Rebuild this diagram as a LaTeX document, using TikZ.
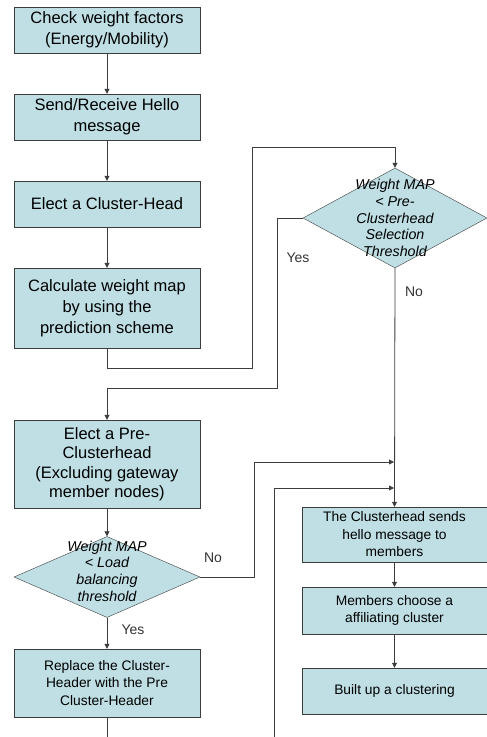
\documentclass[tikz,border=0pt]{standalone}
\usepackage{fontspec}
\setmainfont{Liberation Sans}
\usetikzlibrary{shapes.geometric,arrows.meta}
\definecolor{boxfill}{RGB}{191,223,228}
\definecolor{linegray}{RGB}{60,60,60}
\tikzset{
  box/.style={draw=linegray, fill=boxfill, align=center, inner sep=1pt},
  bigbox/.style={box, minimum width=186pt, font=\fontsize{16.5}{21}\selectfont},
  smallbox/.style={box, minimum width=185pt, font=\fontsize{13.8}{17.5}\selectfont},
  dia/.style={diamond, draw=linegray, fill=boxfill, inner sep=0pt},
  diatext/.style={align=center, inner sep=0pt, font=\fontsize{14.3}{16.7}\selectfont\itshape},
  answer/.style={font=\fontsize{14}{16}\selectfont, text=black!80},
  arr/.style={draw=linegray, line width=0.8pt, -{Triangle[length=5pt,width=5pt]}},
  ln/.style={draw=linegray, line width=0.8pt}
}
\begin{document}
\begin{tikzpicture}[x=1pt,y=-1pt]
\clip (0,0) rectangle (487,737);
% left column
\node[bigbox, minimum height=46pt] (check) at (107,30) {Check weight factors\\(Energy/Mobility)};
\node[bigbox, minimum height=46pt] (hello) at (107,117) {Send/Receive Hello\\message};
\node[bigbox, minimum height=46pt] (elect) at (107,204) {Elect a Cluster-Head};
\node[bigbox, minimum height=80pt] (calc) at (107,308) {Calculate weight map\\by using the\\prediction scheme};
\node[bigbox, minimum height=88pt, font=\fontsize{16.5}{19.5}\selectfont] (pre) at (107,464) {Elect a Pre-\\Clusterhead\\(Excluding gateway\\member nodes)};
\node[dia, minimum width=186pt, minimum height=81pt] (load) at (107,577) {};
\node[diatext] (loadtxt) at (107,571) {Weight MAP\\< Load\\balancing\\threshold};
\node[smallbox, minimum width=186pt, minimum height=68pt] (replace) at (107,683) {Replace the Cluster-\\Header with the Pre\\Cluster-Header};
% right column
\node[dia, minimum width=184pt, minimum height=100pt] (sel) at (395,218) {};
\node[diatext] (seltxt) at (395,218) {Weight MAP\\< Pre-\\Clusterhead\\Selection\\Threshold};
\node[smallbox, minimum height=55pt] (sends) at (394.5,534.5) {The Clusterhead sends\\hello message to\\members};
\node[smallbox, minimum height=47pt] (choose) at (394.5,610.5) {Members choose a\\affiliating cluster};
\node[smallbox, minimum height=46pt] (built) at (394.5,691) {Built up a clustering};
% answers
\node[answer] (yes1) at (298,258) {Yes};
\node[answer] (no1) at (414,292) {No};
\node[answer] (no2) at (213,558) {No};
\node[answer] (yes2) at (133,630) {Yes};
% bends
\coordinate (k1) at (252,368);
\coordinate (k2) at (252,147);
\coordinate (k3) at (277,388);
\coordinate (k4) at (254,462);
\coordinate (m1) at (394,462);
\coordinate (k5) at (274,760);
\coordinate (m2) at (394,488);
% connectors
\draw[arr] (check) -- (hello);
\draw[arr] (hello) -- (elect);
\draw[arr] (elect) -- (calc);
\draw[arr] (calc.south) |- (k1) -- (k2) -| (sel.north);
\draw[arr] (sel.west) -| (k3) -| (pre.north);
\draw[arr] (sel.south) -- (sends.north);
\draw[arr] (pre) -- (load.north);
\draw[arr] (load.east) -| (k4) -- (m1);
\draw[arr] (load.south) -- (replace.north);
\draw[arr] (replace.south) |- (k5) |- (m2);
\draw[arr] (sends) -- (choose);
\draw[arr] (choose) -- (built);
\end{tikzpicture}
\end{document}
